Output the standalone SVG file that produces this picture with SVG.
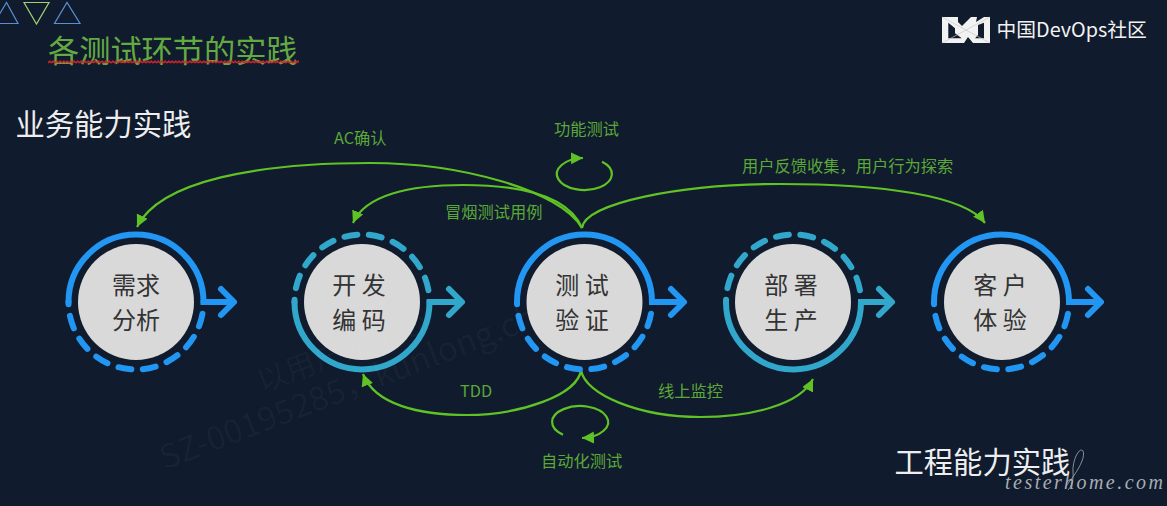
<svg xmlns="http://www.w3.org/2000/svg" width="1167" height="506" viewBox="0 0 1167 506">
<style>
text{font-family:"Noto Sans CJK SC","Noto Sans",sans-serif}
.disk{fill:#d9d9d9}
.nt{font-size:24px;fill:#333;text-anchor:middle}
.blue{fill:none;stroke:#2196f3;stroke-width:6;stroke-linecap:round;stroke-linejoin:miter}
.teal{fill:none;stroke:#31a7cc;stroke-width:6;stroke-linecap:round;stroke-linejoin:miter}
.dash{stroke-dasharray:13 11.7;stroke-dashoffset:-14}
.head{stroke-linejoin:round}
.cn{fill:none;stroke:#5fc225;stroke-width:2.2}
.lb{font-size:16.25px;fill:#5ba838}
.h{font-size:29.3px;fill:#eeeeee}
.wm{fill:#ffffff;fill-opacity:.035}
</style>
<defs>
<marker id="ah" markerUnits="userSpaceOnUse" markerWidth="14" markerHeight="14" refX="12" refY="6" orient="auto"><path d="M0,0L12,6L0,12z" fill="#5fc225"/></marker>
<pattern id="sq" patternUnits="userSpaceOnUse" x="48" y="60" width="3.5" height="4"><path d="M0,3L1.750,1L3.500,3" fill="none" stroke="#d6242e" stroke-width="1.3"/></pattern>
</defs>
<rect width="1167" height="506" fill="#101b2d"/>
<g id="decor" fill="none" stroke-width="1.2">
<path d="M-6,23.500H18L6.500,2.500z" stroke="#5b8fd0"/>
<path d="M24,2.500H49L36.500,24z" stroke="#a5d074"/>
<path d="M54.500,23.500H80L67,2.500z" stroke="#5b8fd0"/>
</g>
<g id="title">
<text x="48" y="61.500" font-size="31.2" fill="#64aa42">各测试环节的实践</text>
<rect x="48" y="60" width="251" height="4" fill="url(#sq)"/>
</g>
<text id="biz" class="h" x="15.500" y="135">业务能力实践</text>
<text id="eng" class="h" x="894.500" y="473">工程能力实践</text>
<g id="logo">
<rect x="942" y="17" width="48" height="26" fill="#f2f2f2"/>
<path d="M948.300,22.700L955,28.300V33.300L961.700,38.300H948.300z" fill="#101b2d"/>
<path d="M978,25L984,22.700V38.300H975L978,35z" fill="#101b2d"/>
<path d="M958,17H971L962,26L958,22z" fill="#101b2d"/>
<path d="M977,17H984L976,22z" fill="#101b2d"/>
<path d="M964,43L968,37L973,43z" fill="#101b2d"/>
<path d="M942,17L966,30L990,43M990,17L966,30L942,43" fill="none" stroke="#c9c9c9" stroke-width=".7"/>
<text x="996.500" y="37" font-size="19.8" fill="#f2f2f2">中国DevOps社区</text>
</g>
<g id="connectors">
<path class="cn" marker-end="url(#ah)" d="M582,228C560,190 460,163 370,163C260,163 160,180 137,227"/>
<path class="cn" marker-end="url(#ah)" d="M582,228C570,200 530,185 463,185C410,185 365,195 353,223"/>
<path class="cn" marker-end="url(#ah)" d="M582,228C585,203 680,184 780,184C880,184 965,195 985,223"/>
<path class="cn" marker-end="url(#ah)" d="M581,370C578,395 520,415 467,415C420,415 375,405 363,374"/>
<path class="cn" marker-end="url(#ah)" d="M581,370C585,395 640,417 700,417C750,417 800,405 813,379"/>
<path class="cn" marker-end="url(#ah)" d="M602,161.700A27.500,16 0 1 1 583,158"/>
<path class="cn" marker-end="url(#ah)" d="M563,434.700A28,16 0 1 1 582,438"/>
</g>
<g id="n1">
<circle class="disk" cx="136" cy="302" r="58"/>
<path class="blue" d="M68.500,302A67.500,67.500 0 0 1 203.500,302H232"/>
<path class="blue head" d="M221,289L234,302L221,315"/>
<path class="blue dash" d="M68.500,302A67.500,67.500 0 0 0 203.500,302"/>
<text class="nt" x="136" y="294">需求</text><text class="nt" x="136" y="329">分析</text>
</g>
<g id="n2">
<circle class="disk" cx="362" cy="302" r="58"/>
<path class="teal" d="M294.500,302A67.500,67.500 0 0 0 429.500,302H460"/>
<path class="teal head" d="M449,289L462,302L449,315"/>
<path class="teal dash" d="M294.500,302A67.500,67.500 0 0 1 429.500,302"/>
<text class="nt" x="359" y="294">开 发</text><text class="nt" x="359" y="329">编 码</text>
</g>
<g id="n3">
<circle class="disk" cx="584.500" cy="302" r="58"/>
<path class="blue" d="M517,302A67.500,67.500 0 0 1 652,302H682"/>
<path class="blue head" d="M671,289L684,302L671,315"/>
<path class="blue dash" d="M517,302A67.500,67.500 0 0 0 652,302"/>
<text class="nt" x="582" y="294">测 试</text><text class="nt" x="582" y="329">验 证</text>
</g>
<g id="n4">
<circle class="disk" cx="793" cy="302" r="58"/>
<path class="teal" d="M726,302A67.500,67.500 0 0 0 861,302H890"/>
<path class="teal head" d="M879,289L892,302L879,315"/>
<path class="teal dash" d="M726,302A67.500,67.500 0 0 1 861,302"/>
<text class="nt" x="791" y="294">部 署</text><text class="nt" x="791" y="329">生 产</text>
</g>
<g id="n5">
<circle class="disk" cx="1002" cy="302" r="58"/>
<path class="blue" d="M934,302A67.500,67.500 0 0 1 1069,302H1099"/>
<path class="blue head" d="M1088,289L1101,302L1088,315"/>
<path class="blue dash" d="M934,302A67.500,67.500 0 0 0 1069,302"/>
<text class="nt" x="1000" y="294">客 户</text><text class="nt" x="1000" y="329">体 验</text>
</g>
<g id="labels">
<text class="lb" x="334" y="144">AC确认</text>
<text class="lb" x="554" y="135">功能测试</text>
<text class="lb" x="445" y="218">冒烟测试用例</text>
<text class="lb" x="742" y="172">用户反馈收集，用户行为探索</text>
<text class="lb" x="460" y="397">TDD</text>
<text class="lb" x="658" y="397">线上监控</text>
<text class="lb" x="541" y="467">自动化测试</text>
</g>
<g id="watermark">
<text class="wm" font-size="30" transform="translate(262,393) rotate(-21)">以用户为中心</text>
<text class="wm" font-size="33" transform="translate(165,470) rotate(-21)">SZ-00195285，kunlong.chen</text>
</g>
<g id="signature">
<text x="1005" y="489" font-size="20" textLength="158" lengthAdjust="spacing" font-style="italic" fill="#a8adb3" style="font-family:'Liberation Serif',serif">testerhome.com</text>
<path d="M1066,486C1076,474 1086,458 1083,451C1079,446 1072,462 1073,472C1074,482 1070,488 1068,490" fill="none" stroke="#a8adb3" stroke-width=".8"/>
</g>
</svg>
